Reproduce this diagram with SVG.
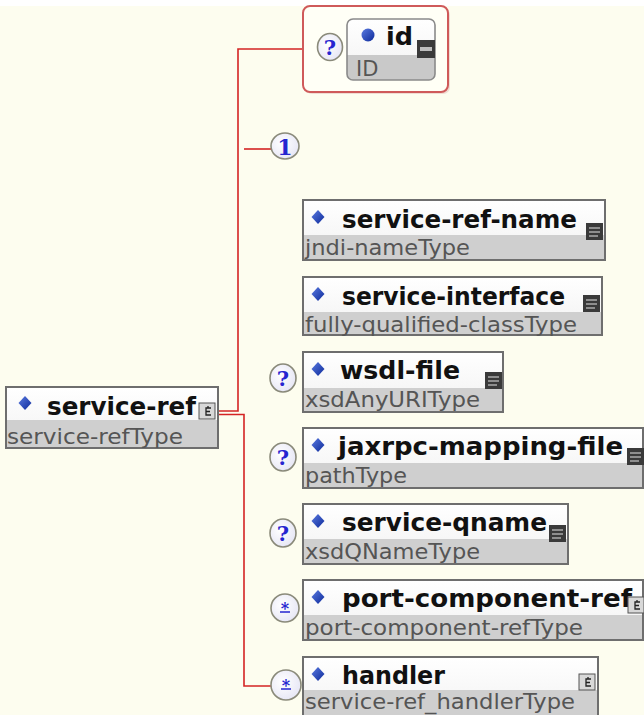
<svg xmlns="http://www.w3.org/2000/svg" width="644" height="715" viewBox="0 0 644 715">
<defs>
<style>
.main{font-family:"DejaVu Sans","Liberation Sans",sans-serif;font-weight:bold;font-size:24px;fill:#111}
.sub{font-family:"DejaVu Sans","Liberation Sans",sans-serif;font-size:21px;fill:#555}
.top{fill:url(#topg)}
.gray{fill:#cfcfcf}
.border{fill:none;stroke:#6e6e6e;stroke-width:2}
.dia{fill:url(#blue)}
.conn{fill:none;stroke:#d42424;stroke-width:1.6}
.circ{fill:url(#circg);stroke:#8a8a7a;stroke-width:1.6}
.ctext{font-family:"DejaVu Serif","Liberation Serif",serif;font-weight:bold;fill:#2525d0;text-anchor:middle}
.list{fill:#3a3a3a}
.listline{stroke:#bdbdbd;stroke-width:1.3}
.cx{fill:#d8d8d8;stroke:#555;stroke-width:1}
.cxg{fill:none;stroke:#222;stroke-width:1.3}
</style>
<linearGradient id="topg" x1="0" y1="0" x2="0" y2="1">
<stop offset="0" stop-color="#ffffff"/><stop offset="1" stop-color="#f1f1f1"/>
</linearGradient>
<linearGradient id="blue" x1="0" y1="0" x2="1" y2="1">
<stop offset="0" stop-color="#5a7ae0"/><stop offset="1" stop-color="#0d2a9a"/>
</linearGradient>
<radialGradient id="circg" cx="0.4" cy="0.4" r="0.7">
<stop offset="0" stop-color="#ffffff"/><stop offset="1" stop-color="#e4e4f4"/>
</radialGradient>
<g id="listicon">
<rect class="list" x="0" y="0" width="17" height="17"/>
<line class="listline" x1="3" y1="5" x2="14" y2="5"/>
<line class="listline" x1="3" y1="9" x2="14" y2="9"/>
<line class="listline" x1="3" y1="13" x2="12" y2="13"/>
</g>
<g id="cxicon">
<rect class="cx" x="0" y="0" width="16" height="16"/>
<path class="cxg" d="M12 5 H7 V12 H12 M7 8.5 H11 M9 3 V5"/>
</g>
<polygon id="diamond" class="dia" points="0,-7 6.5,0 0,7 -6.5,0"/>
</defs>
<rect width="644" height="715" fill="#fdfdef"/>
<rect width="644" height="6" fill="#ffffff"/>

<g id="connectors">
<path class="conn" d="M218 411 H238 V49 H303"/>
<path class="conn" d="M218 414.5 H244 V686 H271"/>
<path class="conn" d="M244 149 H272"/>
</g>

<g id="attributes">
<rect x="305" y="8" width="145" height="86" rx="7" fill="#e8c8c0" opacity="0.6"/>
<rect x="303" y="6" width="145" height="86" rx="7" fill="#fffff6" stroke="#cf5a5a" stroke-width="2"/>
<ellipse class="circ" cx="330" cy="47" rx="12.5" ry="13.5"/>
<text class="ctext" x="330" y="55" font-size="21">?</text>
<g id="id">
<rect x="347" y="19" width="88" height="61" rx="6" fill="url(#topg)"/>
<path d="M347 55 H435 V74 A6 6 0 0 1 429 80 H353 A6 6 0 0 1 347 74 Z" fill="#c9c9c9"/>
<rect x="347" y="19" width="88" height="61" rx="6" fill="none" stroke="#8a8a8a" stroke-width="1.6"/>
<circle cx="368" cy="35" r="6.5" fill="url(#blue)"/>
<text class="main" x="386" y="45" textLength="27" lengthAdjust="spacingAndGlyphs">id</text>
<text class="sub" x="356" y="76" font-size="19">ID</text>
<rect x="417" y="40" width="18" height="18" fill="#3a3a3a"/>
<rect x="420" y="47" width="12" height="4" fill="#bdbdbd"/>
</g>
</g>

<g id="service-ref" transform="translate(6,387)">
<rect class="top" x="0" y="0" width="212" height="61"/>
<rect class="gray" x="0" y="33" width="212" height="28"/>
<rect class="border" x="0" y="0" width="212" height="61"/>
<use href="#diamond" x="19" y="16"/>
<text class="main" x="41" y="28" font-size="25" textLength="149" lengthAdjust="spacingAndGlyphs">service-ref</text>
<text class="sub" x="1" y="57" textLength="176" lengthAdjust="spacingAndGlyphs">service-refType</text>
<use href="#cxicon" x="193" y="16"/>
</g>

<g id="sequence">
<ellipse class="circ" cx="285" cy="146" rx="14" ry="13"/>
<text class="ctext" x="285" y="155" font-size="22">1</text>
</g>

<g id="service-ref-name" transform="translate(303,200)">
<rect class="top" x="0" y="0" width="302" height="60"/>
<rect class="gray" x="0" y="35" width="302" height="25"/>
<rect class="border" x="0" y="0" width="302" height="60"/>
<use href="#diamond" x="15" y="17"/>
<text class="main" x="39" y="28" textLength="235" lengthAdjust="spacingAndGlyphs">service-ref-name</text>
<text class="sub" x="2" y="55" textLength="165" lengthAdjust="spacingAndGlyphs">jndi-nameType</text>
<use href="#listicon" x="283" y="23"/>
</g>

<g id="service-interface" transform="translate(303,277)">
<rect class="top" x="0" y="0" width="299" height="58"/>
<rect class="gray" x="0" y="35" width="299" height="23"/>
<rect class="border" x="0" y="0" width="299" height="58"/>
<use href="#diamond" x="15" y="17"/>
<text class="main" x="39" y="28" textLength="223" lengthAdjust="spacingAndGlyphs">service-interface</text>
<text class="sub" x="2" y="55" textLength="272" lengthAdjust="spacingAndGlyphs">fully-qualified-classType</text>
<use href="#listicon" x="280" y="18"/>
</g>

<g id="wsdl-file">
<ellipse class="circ" cx="283" cy="378" rx="13" ry="14"/>
<text class="ctext" x="283" y="386" font-size="21">?</text>
<g transform="translate(303,352)">
<rect class="top" x="0" y="0" width="200" height="60"/>
<rect class="gray" x="0" y="36" width="200" height="24"/>
<rect class="border" x="0" y="0" width="200" height="60"/>
<use href="#diamond" x="15" y="17"/>
<text class="main" x="37" y="27" textLength="120" lengthAdjust="spacingAndGlyphs">wsdl-file</text>
<text class="sub" x="2" y="55" textLength="175" lengthAdjust="spacingAndGlyphs">xsdAnyURIType</text>
<use href="#listicon" x="182" y="20"/>
</g>
</g>

<g id="jaxrpc-mapping-file">
<ellipse class="circ" cx="283" cy="457" rx="13" ry="14"/>
<text class="ctext" x="283" y="465" font-size="21">?</text>
<g transform="translate(303,428)">
<rect class="top" x="0" y="0" width="340" height="60"/>
<rect class="gray" x="0" y="35" width="340" height="25"/>
<rect class="border" x="0" y="0" width="340" height="60"/>
<use href="#diamond" x="15" y="17"/>
<text class="main" x="35" y="27" textLength="285" lengthAdjust="spacingAndGlyphs">jaxrpc-mapping-file</text>
<text class="sub" x="2" y="55" textLength="102" lengthAdjust="spacingAndGlyphs">pathType</text>
<use href="#listicon" x="324" y="20"/>
</g>
</g>

<g id="service-qname">
<ellipse class="circ" cx="283" cy="533" rx="13" ry="14"/>
<text class="ctext" x="283" y="541" font-size="21">?</text>
<g transform="translate(303,504)">
<rect class="top" x="0" y="0" width="265" height="60"/>
<rect class="gray" x="0" y="35" width="265" height="25"/>
<rect class="border" x="0" y="0" width="265" height="60"/>
<use href="#diamond" x="15" y="17"/>
<text class="main" x="39" y="27" textLength="205" lengthAdjust="spacingAndGlyphs">service-qname</text>
<text class="sub" x="2" y="55" textLength="175" lengthAdjust="spacingAndGlyphs">xsdQNameType</text>
<use href="#listicon" x="246" y="21"/>
</g>
</g>

<g id="port-component-ref">
<ellipse class="circ" cx="285" cy="608" rx="14" ry="14"/>
<text class="ctext" x="285" y="614" font-size="16">*</text>
<line x1="280" y1="612" x2="290" y2="612" stroke="#2525d0" stroke-width="1.5"/>
<g transform="translate(303,580)">
<rect class="top" x="0" y="0" width="340" height="60"/>
<rect class="gray" x="0" y="35" width="340" height="25"/>
<rect class="border" x="0" y="0" width="340" height="60"/>
<use href="#diamond" x="15" y="17"/>
<text class="main" x="39" y="27" textLength="290" lengthAdjust="spacingAndGlyphs">port-component-ref</text>
<text class="sub" x="2" y="55" textLength="278" lengthAdjust="spacingAndGlyphs">port-component-refType</text>
<use href="#cxicon" x="325" y="17"/>
</g>
</g>

<g id="handler">
<ellipse class="circ" cx="286" cy="685" rx="15" ry="15"/>
<text class="ctext" x="286" y="691" font-size="16">*</text>
<line x1="281" y1="689" x2="291" y2="689" stroke="#2525d0" stroke-width="1.5"/>
<g transform="translate(303,657)">
<rect class="top" x="0" y="0" width="295" height="64"/>
<rect class="gray" x="0" y="33" width="295" height="31"/>
<rect class="border" x="0" y="0" width="295" height="64"/>
<use href="#diamond" x="15" y="17"/>
<text class="main" x="39" y="27" textLength="103" lengthAdjust="spacingAndGlyphs">handler</text>
<text class="sub" x="2" y="52" textLength="270" lengthAdjust="spacingAndGlyphs">service-ref_handlerType</text>
<use href="#cxicon" x="276" y="17"/>
</g>
</g>
</svg>
